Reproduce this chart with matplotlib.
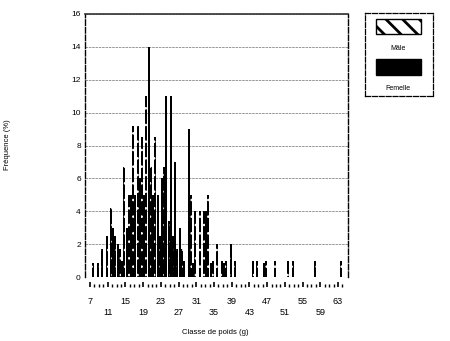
import numpy as np
import matplotlib
matplotlib.use('Agg')
import matplotlib.pyplot as plt
from matplotlib.patches import Rectangle

plt.rcParams['font.family'] = ['Liberation Sans Narrow', 'Liberation Sans', 'DejaVu Sans']

# weight classes (g), one per integer
classes = list(range(7, 65))
# frequencies (%), male then female for each class
male = [0, 0.85, 0.85, 1.7, 2.5, 4.2, 2.5, 1.7, 6.7, 5.0, 9.2, 9.2, 8.5, 11.0, 6.7,
        8.5, 2.5, 6.7, 3.4, 2.5, 1.7, 1.7, 0, 5.0, 4.0, 4.0, 4.0, 5.0, 1.0, 2.0,
        1.0, 1.0, 2.0, 1.0, 0, 0, 0, 1.0, 1.0, 0, 1.0, 0, 1.0, 0, 0, 1.0, 1.0, 0,
        0, 0, 0, 1.0, 0, 0, 0, 0, 0, 1.0]
female = [0, 0, 0, 0, 0, 3.0, 2.0, 1.0, 3.0, 5.0, 5.0, 6.0, 5.0, 14.0, 5.0,
          5.0, 6.0, 11.0, 11.0, 7.0, 3.0, 1.0, 9.0, 0.85, 0, 0, 4.0, 0.85, 0, 0,
          0.85, 0, 0, 0, 0, 0, 0, 0, 0, 0.85, 0, 0, 0, 0, 0, 0, 0, 0,
          0, 0, 0, 0, 0, 0, 0, 0, 0, 0]
major_ticks = list(range(7, 64, 4))
y_ticks = list(range(0, 17, 2))

x = np.array(classes)
w = 0.44

fig = plt.figure(figsize=(4.5, 3.41), dpi=100)
ax = fig.add_axes([85 / 450, 1 - 277 / 341, 263 / 450, 263 / 341])

# male bars: black with white speckles (hatch)
ax.bar(x - 0.25, male, width=w, color='black', linewidth=0, zorder=3)
plt.rcParams['hatch.linewidth'] = 0.6
ax.bar(x - 0.25, male, width=w, fill=False, hatch='..', edgecolor='white',
       linewidth=0, zorder=4)
ax.bar(x + 0.25, female, width=w, color='black', linewidth=0, zorder=3)

ax.set_xlim(5.87, 65.26)
ax.set_ylim(0, 16)
ax.set_yticks(y_ticks)
ax.set_yticklabels([str(v) for v in y_ticks])
ax.tick_params(axis='y', length=0, pad=3, labelsize=6)
ax.yaxis.grid(True, color='#888888', linestyle=(0, (3, 1)), linewidth=0.6, zorder=0)

ax.set_xticks(major_ticks)
ax.set_xticks(classes, minor=True)
labels = [str(v) if i % 2 == 0 else '\n' + str(v) for i, v in enumerate(major_ticks)]
ax.set_xticklabels(labels)
ax.tick_params(axis='x', which='major', direction='in', length=3.6, width=1.2,
               pad=7.5, labelsize=6.5)
ax.tick_params(axis='x', which='minor', direction='in', length=2.0, width=1.0)
for lbl in ax.get_xticklabels():
    lbl.set_linespacing(2.1)

ax.spines['bottom'].set_position(('outward', 7.2))
ax.spines['bottom'].set_visible(False)
ax.spines['top'].set_color('#333333')
ax.spines['top'].set_linewidth(1.2)
for side in ['left', 'right']:
    ax.spines[side].set_linestyle((0, (4, 1.5)))
    ax.spines[side].set_linewidth(1.0)

fig.text(215 / 450, 1 - 332 / 341, 'Classe de poids (g)', fontsize=5.5,
         ha='center', va='center')
fig.text(8 / 450, 1 - 145 / 341, 'Fréquence (%)', fontsize=5.5,
         rotation=90, ha='center', va='center')

# legend box
lax = fig.add_axes([365 / 450, 1 - 96 / 341, 68 / 450, 83 / 341])
lax.set_xticks([])
lax.set_yticks([])
lax.set_xlim(0, 1)
lax.set_ylim(0, 1)
for side in lax.spines.values():
    side.set_linestyle((0, (4, 1.5)))
    side.set_linewidth(0.9)
plt.rcParams['hatch.linewidth'] = 2.0
lax.add_patch(Rectangle((0.16, 0.75), 0.66, 0.18, facecolor='white',
                        edgecolor='black', hatch='\\\\', linewidth=1.0))
lax.text(0.49, 0.57, 'Mâle', fontsize=5, ha='center', va='center')
lax.add_patch(Rectangle((0.16, 0.25), 0.66, 0.19, facecolor='black',
                        edgecolor='black', linewidth=1.0))
lax.text(0.49, 0.09, 'Femelle', fontsize=5, ha='center', va='center')

fig.savefig('out.png', dpi=100)
